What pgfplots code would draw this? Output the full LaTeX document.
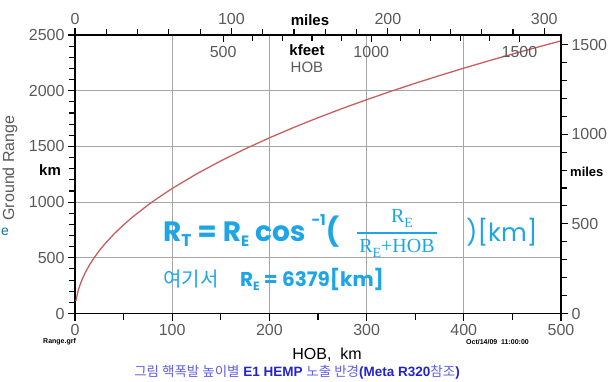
\documentclass[border=0pt]{standalone}
\usepackage{pgfplots}
\pgfplotsset{compat=1.18}
\usepackage{fontspec}
\setmainfont{Liberation Sans}
\newfontfamily\kr{Noto Sans CJK KR}
\newfontfamily\pop{Poppins}
\newfontfamily\ser{Liberation Serif}
\definecolor{tk}{RGB}{90,90,90}
\definecolor{curvec}{RGB}{200,95,95}
\definecolor{fb}{RGB}{30,165,230}
\definecolor{capk}{RGB}{95,95,230}
\definecolor{capl}{RGB}{35,35,205}
\definecolor{gridc}{RGB}{165,165,165}
\pgfplotsset{
 base/.style={width=486pt,height=278.5pt,scale only axis,at={(0,0)},anchor=south west,
   axis line style={line width=1.5pt,black},
   tick style={black,line width=1.1pt},
   major tick length=7pt, minor tick length=6pt,
   tick align=outside,
   /pgf/number format/assume math mode=true,
   /pgf/number format/set thousands separator={},
   ticklabel style={font=\fontsize{16}{16}\selectfont, text=tk},
 }
}
\pgfplotstableread{
h R
1 112.9
1.5 138.3
2 159.7
3 195.6
4 225.8
5 252.6
7 298.7
10 357.0
15 437.0
20 504.5
25 563.8
30 617.5
40 712.5
50 796.1
60 871.5
75 973.4
85 1035.6
100 1122.2
125 1252.6
150 1370.0
175 1477.4
200 1576.9
225 1669.9
250 1757.5
275 1840.3
300 1919.2
325 1994.4
350 2066.5
375 2135.7
400 2202.3
425 2266.6
450 2328.7
475 2388.8
500 2447.1
}\rangedata
\begin{document}
\begin{tikzpicture}
\begin{axis}[base, xmin=0,xmax=500,ymin=0,ymax=2500,
  xtick={0,100,...,500}, ytick={0,500,...,2500},
  minor x tick num=1, minor y tick num=4,
  xtick pos=left, ytick pos=left,
  grid=major, major grid style={gridc,line width=1.2pt}]
\addplot[curvec, line width=1.3pt, no marks] table[x=h,y=R] {\rangedata};
\end{axis}
\begin{axis}[base, xmin=0,xmax=310.686,ymin=0,ymax=1,
  axis x line*=top, hide y axis,
  xtick={0,100,200,300}, minor x tick num=4]
\end{axis}
\begin{axis}[base, xmin=0,xmax=1640.42,ymin=0,ymax=1,
  axis x line*=top, hide y axis, tick align=inside,
  xtick={500,1000,1500}, minor x tick num=4,
  xticklabel style={anchor=north, yshift=-8pt}]
\end{axis}
\begin{axis}[base, xmin=0,xmax=1,ymin=0,ymax=1553.43,
  axis y line*=right, hide x axis,
  ytick={0,500,1000,1500}, minor y tick num=4]
\end{axis}
\begin{scope}[shift={(-75pt,313.5pt)},x=1pt,y=-1pt]
\node[font=\bfseries\fontsize{15}{15}\selectfont] at (310,20) {miles};
\node[font=\bfseries\fontsize{15}{15}\selectfont] at (307,50) {kfeet};
\node[font=\fontsize{15}{15}\selectfont, text=tk] at (307,67) {HOB};
\node[font=\bfseries\fontsize{15}{15}\selectfont] at (50,170) {km};
\node[font=\bfseries\fontsize{13}{13}\selectfont, anchor=west, inner sep=0pt] at (570,172) {miles};
\node[font=\fontsize{16}{16}\selectfont, text=tk, rotate=90] at (10,168) {Ground Range};
\node[font=\fontsize{16}{16}\selectfont] at (327,355) {HOB,\ \ km};
\node[font=\bfseries\fontsize{7}{7}\selectfont, anchor=west, inner sep=0pt] at (43,342) {Range.grf};
\node[font=\bfseries\fontsize{7}{7}\selectfont, anchor=west, inner sep=0pt] at (466,342) {Oct/14/09\ \ 11:00:00};
\node[font=\fontsize{13.5}{14}\selectfont, inner sep=0pt] at (297,372)
  {{\kr\color{capk}그림 핵폭발 높이별} {\bfseries\color{capl}E1 HEMP} {\kr\color{capk}노출 반경}{\bfseries\color{capl}(Meta R320}{\kr\color{capk}참조}{\bfseries\color{capl})}};
% formula
\node[anchor=base west, inner sep=0pt, text=fb, font=\pop\bfseries\fontsize{28}{28}\selectfont] at (163,241)
  {R\raisebox{-0.2em}{\fontsize{17}{17}\selectfont T} = R\raisebox{-0.2em}{\fontsize{15}{15}\selectfont E} cos \raisebox{0.55em}{\fontsize{15}{15}\selectfont -1}(};
\node[text=fb, font=\ser\fontsize{20}{20}\selectfont, inner sep=0pt] at (402,218) {R\raisebox{-0.25em}{\fontsize{14}{14}\selectfont E}};
\draw[fb, line width=1.1pt] (357,233) -- (437,233);
\node[text=fb, font=\ser\fontsize{20}{20}\selectfont, inner sep=0pt] at (397,248) {R\raisebox{-0.25em}{\fontsize{14}{14}\selectfont E}+HOB};
\node[anchor=west, inner sep=0pt, text=fb, font=\pop\fontsize{25}{25}\selectfont] at (466,232) {)[km]};
\node[anchor=base west, inner sep=0pt, text=fb, font=\kr\fontsize{20}{20}\selectfont] at (163,286) {여기서};
\node[anchor=base west, inner sep=0pt, text=fb, font=\pop\bfseries\fontsize{20}{20}\selectfont] at (240,286)
  {R\raisebox{-0.2em}{\fontsize{12}{12}\selectfont E} = 6379[km]};
\node[text=fb!70!black, font=\fontsize{14}{14}\selectfont, inner sep=0pt, anchor=west] at (1,232) {e};
\pgfresetboundingbox
\path[use as bounding box] (0,0) rectangle (608,381);
\end{scope}
\end{tikzpicture}
\end{document}
